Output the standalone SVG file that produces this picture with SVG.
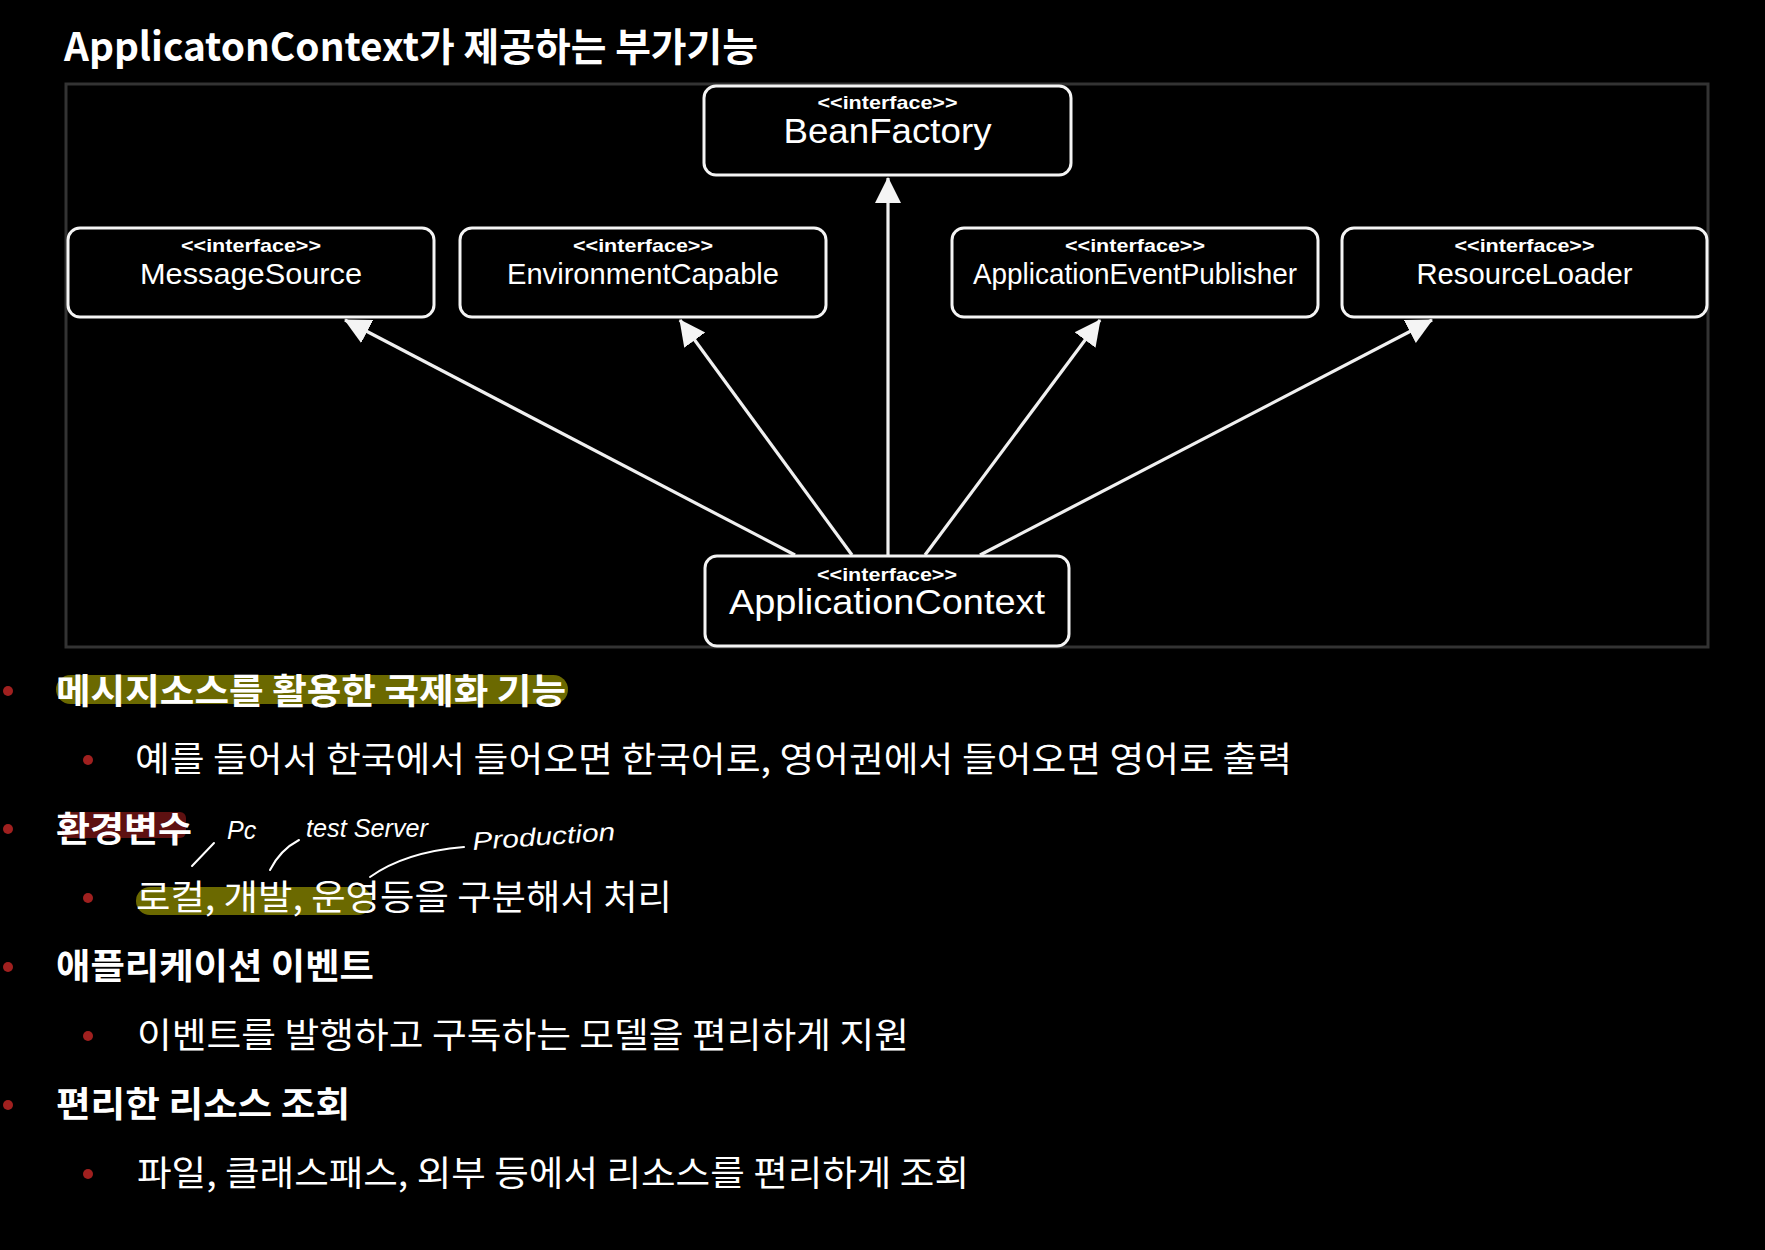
<svg xmlns="http://www.w3.org/2000/svg" width="1765" height="1250" viewBox="0 0 1765 1250">
<style>
.node rect{fill:#000;stroke:#f4f4f4;stroke-width:3}
.st{font-family:"Liberation Sans",Arial,sans-serif;font-weight:700;font-size:19px;fill:#fff;text-anchor:middle}
.nm{font-family:"Liberation Sans",Arial,sans-serif;font-size:29px;fill:#fff;text-anchor:middle}
.nm.big{font-size:35px}
.edges line{stroke:#f0f0f0;stroke-width:3.2;fill:none}
.ko{font-family:"Noto Sans CJK KR",sans-serif;font-size:35px;fill:#fff}
.kb{font-weight:700}
.bul{fill:#a0201f}
.hand{font-family:"Liberation Sans",sans-serif;font-style:italic;font-size:25px;fill:#fff}
.hl{stroke:#fff;stroke-width:2;fill:none;stroke-linecap:round}
</style>
<defs>
<marker id="tri" viewBox="0 0 26 28" refX="25" refY="14" markerWidth="26" markerHeight="28" markerUnits="userSpaceOnUse" orient="auto">
<path d="M0,1 L26,14 L0,27 Z" fill="#f4f4f4"/>
</marker>
</defs>
<rect x="0" y="0" width="1765" height="1250" fill="#000"/>
<text x="64" y="61" font-family="Noto Sans CJK KR,sans-serif" font-weight="700" font-size="39" fill="#fff" textLength="694" lengthAdjust="spacingAndGlyphs">ApplicatonContext가 제공하는 부가기능</text>
<rect id="frame" x="66" y="84" width="1642" height="563" fill="#000" stroke="#333" stroke-width="3"/>
<g class="edges" id="connectors">
<line x1="795" y1="555" x2="345" y2="320" marker-end="url(#tri)"/>
<line x1="852" y1="555" x2="680" y2="320" marker-end="url(#tri)"/>
<line x1="888" y1="555" x2="888" y2="178" marker-end="url(#tri)"/>
<line x1="925" y1="555" x2="1100" y2="320" marker-end="url(#tri)"/>
<line x1="980" y1="555" x2="1432" y2="320" marker-end="url(#tri)"/>
</g>
<g class="node" id="BeanFactory">
<rect x="704" y="86" width="367" height="89" rx="12"/>
<text class="st" x="887.5" y="109" textLength="140" lengthAdjust="spacingAndGlyphs">&lt;&lt;interface&gt;&gt;</text>
<text class="nm big" x="887.5" y="143" textLength="208" lengthAdjust="spacingAndGlyphs">BeanFactory</text>
</g>
<g class="node" id="MessageSource">
<rect x="68" y="228" width="366" height="89" rx="12"/>
<text class="st" x="251" y="252" textLength="140" lengthAdjust="spacingAndGlyphs">&lt;&lt;interface&gt;&gt;</text>
<text class="nm" x="251" y="284" textLength="222" lengthAdjust="spacingAndGlyphs">MessageSource</text>
</g>
<g class="node" id="EnvironmentCapable">
<rect x="460" y="228" width="366" height="89" rx="12"/>
<text class="st" x="643" y="252" textLength="140" lengthAdjust="spacingAndGlyphs">&lt;&lt;interface&gt;&gt;</text>
<text class="nm" x="643" y="284" textLength="272" lengthAdjust="spacingAndGlyphs">EnvironmentCapable</text>
</g>
<g class="node" id="ApplicationEventPublisher">
<rect x="952" y="228" width="366" height="89" rx="12"/>
<text class="st" x="1135" y="252" textLength="140" lengthAdjust="spacingAndGlyphs">&lt;&lt;interface&gt;&gt;</text>
<text class="nm" x="1135" y="284" textLength="324" lengthAdjust="spacingAndGlyphs">ApplicationEventPublisher</text>
</g>
<g class="node" id="ResourceLoader">
<rect x="1342" y="228" width="365" height="89" rx="12"/>
<text class="st" x="1524.5" y="252" textLength="140" lengthAdjust="spacingAndGlyphs">&lt;&lt;interface&gt;&gt;</text>
<text class="nm" x="1524.5" y="284" textLength="216" lengthAdjust="spacingAndGlyphs">ResourceLoader</text>
</g>
<g class="node" id="ApplicationContext">
<rect x="705" y="556" width="364" height="90" rx="12"/>
<text class="st" x="887" y="581" textLength="140" lengthAdjust="spacingAndGlyphs">&lt;&lt;interface&gt;&gt;</text>
<text class="nm big" x="887" y="614" textLength="316" lengthAdjust="spacingAndGlyphs">ApplicationContext</text>
</g>
<g id="notes">
<rect x="56" y="675" width="512" height="29" rx="14.5" fill="#6b6900"/>
<rect x="62" y="812" width="124" height="26" rx="6" fill="#5e1111"/>
<rect x="136" y="887" width="236" height="28" rx="14" fill="#6b6900"/>
<circle class="bul" cx="8" cy="691" r="5"/>
<circle class="bul" cx="88" cy="760" r="5"/>
<circle class="bul" cx="8" cy="829" r="5"/>
<circle class="bul" cx="88" cy="898" r="5"/>
<circle class="bul" cx="8" cy="967" r="5"/>
<circle class="bul" cx="88" cy="1036" r="5"/>
<circle class="bul" cx="8" cy="1105" r="5"/>
<circle class="bul" cx="88" cy="1174" r="5"/>
<text class="ko kb" x="56" y="704" textLength="510" lengthAdjust="spacingAndGlyphs">메시지소스를 활용한 국제화 기능</text>
<text class="ko" x="135" y="772" textLength="1157" lengthAdjust="spacingAndGlyphs">예를 들어서 한국에서 들어오면 한국어로, 영어권에서 들어오면 영어로 출력</text>
<text class="ko kb" x="56" y="842" textLength="136" lengthAdjust="spacingAndGlyphs">환경변수</text>
<text class="ko" x="136" y="910" textLength="536" lengthAdjust="spacingAndGlyphs">로컬, 개발, 운영등을 구분해서 처리</text>
<text class="ko kb" x="56" y="979" textLength="318" lengthAdjust="spacingAndGlyphs">애플리케이션 이벤트</text>
<text class="ko" x="137" y="1048" textLength="772" lengthAdjust="spacingAndGlyphs">이벤트를 발행하고 구독하는 모델을 편리하게 지원</text>
<text class="ko kb" x="56" y="1117" textLength="294" lengthAdjust="spacingAndGlyphs">편리한 리소스 조회</text>
<text class="ko" x="137" y="1186" textLength="832" lengthAdjust="spacingAndGlyphs">파일, 클래스패스, 외부 등에서 리소스를 편리하게 조회</text>
</g>
<g id="annotations">
<text class="hand" x="227" y="839">Pc</text>
<path class="hl" d="M192,866 L214,843"/>
<text class="hand" x="306" y="837" textLength="122" lengthAdjust="spacingAndGlyphs">test Server</text>
<path class="hl" d="M270,870 Q280,850 299,840"/>
<text class="hand" x="473" y="850" transform="rotate(-4 473 850)" textLength="143" lengthAdjust="spacingAndGlyphs">Production</text>
<path class="hl" d="M370,877 Q405,852 464,847"/>
</g>
</svg>
